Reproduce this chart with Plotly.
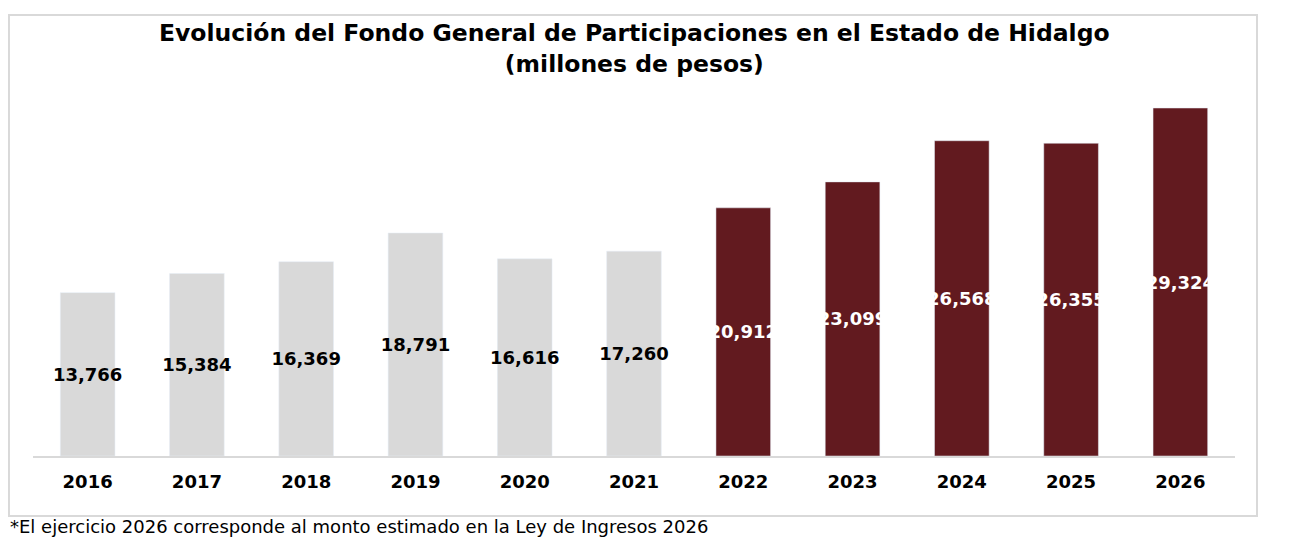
import plotly.graph_objects as go

years = ["2016", "2017", "2018", "2019", "2020", "2021",
         "2022", "2023", "2024", "2025", "2026"]
fondo_mdp = [13766, 15384, 16369, 18791, 16616, 17260,
             20912, 23099, 26568, 26355, 29324]
bar_labels = ["13,766", "15,384", "16,369", "18,791", "16,616", "17,260",
              "20,912", "23,099", "26,568", "26,355", "29,324"]

GRAY = "#d9d9d9"
MAROON = "#621a1f"
FONT = "DejaVu Sans"

# gray up to 2021, maroon from 2022 on
colors = [GRAY if int(y) <= 2021 else MAROON for y in years]
text_colors = ["black" if int(y) <= 2021 else "white" for y in years]

fig = go.Figure(go.Bar(
    x=years,
    y=fondo_mdp,
    marker_color=colors,
    width=0.5,
    text=bar_labels,
    textposition="inside",
    insidetextanchor="middle",
    constraintext="none",
    textangle=0,
    textfont=dict(family=FONT, size=18, color=text_colors, weight="bold"),
    hoverinfo="x+y",
))

fig.update_layout(
    width=1290,
    height=557,
    paper_bgcolor="white",
    plot_bgcolor="white",
    margin=dict(l=25, r=63, t=92, b=109),
    showlegend=False,
    xaxis=dict(
        type="category",
        range=[-0.5, 10.5],
        showline=True,
        linecolor=GRAY,
        linewidth=2,
        ticks="outside",
        ticklen=8,
        tickcolor="rgba(0,0,0,0)",
        tickfont=dict(family=FONT, size=18, color="black", weight="bold"),
    ),
    yaxis=dict(
        range=[0, 30000],
        visible=False,
        showgrid=False,
    ),
    shapes=[dict(
        type="rect", xref="paper", yref="paper",
        x0=-0.02, x1=1.0183, y0=-0.1685, y1=1.2388,
        line=dict(color=GRAY, width=2),
        layer="below",
    )],
    annotations=[
        dict(
            text="<b>Evolución del Fondo General de Participaciones en el Estado de Hidalgo<br>(millones de pesos)</b>",
            xref="paper", yref="paper", x=0.5, y=1.1447,
            xanchor="center", yanchor="middle", showarrow=False,
            font=dict(family=FONT, size=23.5, color="black"),
        ),
        dict(
            text="*El ejercicio 2026 corresponde al monto estimado en la Ley de Ingresos 2026",
            xref="paper", yref="paper", x=-0.0208, y=-0.1994,
            xanchor="left", yanchor="middle", showarrow=False,
            font=dict(family=FONT, size=18, color="black"),
        ),
    ],
)

fig.write_html("out.html")
